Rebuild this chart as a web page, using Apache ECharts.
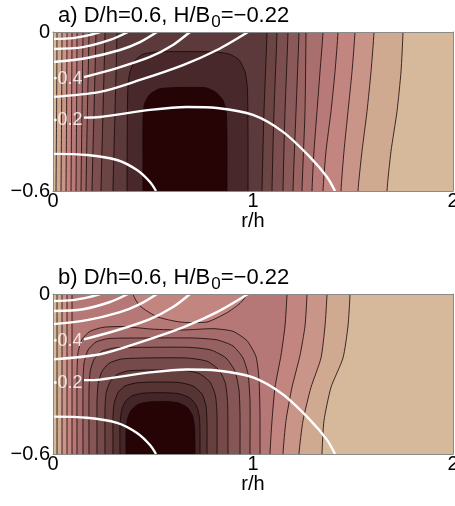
<!DOCTYPE html>
<html><head><meta charset="utf-8">
<script src="https://cdn.jsdelivr.net/npm/echarts@6/dist/echarts.min.js"></script>
<style>html,body{margin:0;padding:0;background:#fff}#c{width:455px;height:506px}</style>
</head><body><div id="c"></div>
<script>
// ---------- axis ticks ----------
const rTicks = [0, 1, 2];
const zTicks = [-0.6, 0];

// ---------- panel a: filled-contour lines (r/h, z/h), top -> bottom ----------
const aLeftLines = [
  [[0.02,0],[0.018,-0.3],[0.015,-0.6]],
  [[0.045,0],[0.043,-0.3],[0.04,-0.6]],
  [[0.07,0],[0.068,-0.3],[0.065,-0.6]],
  [[0.095,0],[0.093,-0.3],[0.09,-0.6]],
  [[0.12,0],[0.118,-0.3],[0.115,-0.6]],
  [[0.15,0],[0.145,-0.3],[0.14,-0.6]],
  [[0.18,0],[0.172,-0.3],[0.165,-0.6]],
  [[0.215,0],[0.205,-0.3],[0.195,-0.6]],
  [[0.26,0],[0.25,-0.3],[0.24,-0.6]],
  [[0.32,0],[0.31,-0.3],[0.30,-0.6]]
];
const aRightLines = [
  [[1.75,0],[1.74,-0.15],[1.72,-0.3],[1.69,-0.45],[1.67,-0.6]],
  [[1.605,0],[1.59,-0.15],[1.57,-0.3],[1.545,-0.45],[1.525,-0.6]],
  [[1.51,0],[1.495,-0.15],[1.475,-0.3],[1.455,-0.45],[1.44,-0.6]],
  [[1.425,0],[1.41,-0.15],[1.39,-0.3],[1.365,-0.45],[1.35,-0.6]],
  [[1.35,0],[1.335,-0.15],[1.32,-0.3],[1.305,-0.45],[1.295,-0.6]],
  [[1.265,0],[1.26,-0.3],[1.245,-0.6]],
  [[1.23,0],[1.215,-0.3],[1.20,-0.6]],
  [[1.175,0],[1.16,-0.3],[1.15,-0.6]],
  [[1.12,0],[1.105,-0.3],[1.095,-0.6]],
  [[1.07,0],[1.055,-0.3],[1.045,-0.6]]
];
// closed-top cores, listed left-bottom -> right-bottom
const aCores = [
  [[0.37,-0.6],[0.372,-0.3],[0.375,-0.2],[0.385,-0.15],[0.41,-0.108],[0.45,-0.084],[0.52,-0.075],[0.80,-0.075],[0.88,-0.083],[0.93,-0.105],[0.96,-0.15],[0.972,-0.21],[0.975,-0.4],[0.975,-0.6]],
  [[0.45,-0.6],[0.45,-0.32],[0.458,-0.27],[0.485,-0.235],[0.53,-0.215],[0.60,-0.21],[0.76,-0.21],[0.81,-0.225],[0.848,-0.255],[0.866,-0.3],[0.87,-0.4],[0.87,-0.6]]
];
const aColors = ['#d5b99a','#d0a991','#ca9589','#c38580','#b87a78','#a96f6e','#9a6463','#8a5959','#7b4f4f','#6b4444','#5c3a3b','#48282a','#260406'];

// ---------- panel b ----------
const bLeftLines = [
  [[0.02,0],[0.02,-0.3],[0.02,-0.6]],
  [[0.045,0],[0.045,-0.3],[0.045,-0.6]],
  [[0.07,0],[0.07,-0.3],[0.07,-0.6]],
  [[0.095,0],[0.095,-0.3],[0.095,-0.6]]
];
const bRightLines = [
  [[1.485,0],[1.475,-0.12],[1.45,-0.24],[1.39,-0.35],[1.355,-0.475],[1.345,-0.6]],
  [[1.37,0],[1.36,-0.12],[1.34,-0.24],[1.29,-0.35],[1.25,-0.475],[1.23,-0.6]],
  [[1.27,0],[1.26,-0.12],[1.235,-0.23],[1.195,-0.35],[1.165,-0.475],[1.15,-0.6]],
  [[1.17,0],[1.16,-0.12],[1.14,-0.23],[1.11,-0.35],[1.095,-0.475],[1.085,-0.6]]
];
// light notch at the top of level 4, left-top -> right-top
const bNotch = [[0.40,0],[0.435,-0.045],[0.52,-0.085],[0.635,-0.105],[0.77,-0.105],[0.87,-0.07],[0.935,-0.035],[0.97,0]];
const bCores = [
  [[0.12,-0.6],[0.12,-0.30],[0.125,-0.22],[0.145,-0.17],[0.185,-0.14],[0.25,-0.125],[0.35,-0.122],[0.50,-0.132],[0.65,-0.135],[0.80,-0.13],[0.90,-0.14],[0.97,-0.175],[1.015,-0.235],[1.03,-0.32],[1.035,-0.45],[1.035,-0.6]],
  [[0.15,-0.6],[0.15,-0.33],[0.155,-0.26],[0.175,-0.21],[0.215,-0.18],[0.28,-0.167],[0.45,-0.165],[0.70,-0.165],[0.82,-0.172],[0.90,-0.195],[0.95,-0.24],[0.975,-0.30],[0.985,-0.4],[0.985,-0.6]],
  [[0.18,-0.6],[0.18,-0.36],[0.186,-0.29],[0.205,-0.245],[0.245,-0.215],[0.31,-0.202],[0.45,-0.20],[0.68,-0.20],[0.79,-0.21],[0.865,-0.24],[0.91,-0.29],[0.93,-0.36],[0.935,-0.45],[0.935,-0.6]],
  [[0.22,-0.6],[0.22,-0.40],[0.226,-0.335],[0.245,-0.29],[0.28,-0.26],[0.34,-0.244],[0.45,-0.24],[0.67,-0.24],[0.77,-0.252],[0.83,-0.285],[0.862,-0.335],[0.873,-0.41],[0.875,-0.6]],
  [[0.26,-0.6],[0.26,-0.43],[0.266,-0.37],[0.285,-0.33],[0.32,-0.302],[0.38,-0.288],[0.5,-0.285],[0.65,-0.286],[0.73,-0.298],[0.785,-0.33],[0.812,-0.38],[0.82,-0.45],[0.82,-0.6]],
  [[0.30,-0.6],[0.30,-0.46],[0.306,-0.41],[0.325,-0.37],[0.36,-0.345],[0.42,-0.333],[0.52,-0.33],[0.63,-0.332],[0.70,-0.345],[0.745,-0.375],[0.765,-0.42],[0.77,-0.48],[0.77,-0.6]],
  [[0.335,-0.6],[0.335,-0.49],[0.342,-0.44],[0.36,-0.405],[0.395,-0.382],[0.45,-0.372],[0.55,-0.37],[0.63,-0.374],[0.685,-0.39],[0.718,-0.42],[0.732,-0.46],[0.735,-0.52],[0.735,-0.6]],
  [[0.365,-0.6],[0.365,-0.52],[0.372,-0.47],[0.39,-0.437],[0.425,-0.414],[0.48,-0.405],[0.56,-0.403],[0.625,-0.408],[0.67,-0.425],[0.697,-0.455],[0.708,-0.5],[0.71,-0.6]]
];
const bColors = ['#d5b99a','#d0a991','#ca9589','#c38580','#b67876','#a66c6b','#966161','#865656','#764a4a','#663f3f','#563434','#442628','#260406'];

// ---------- white stream-function contours (same in both panels) ----------
const psiLines = [
  [[0,-0.026],[0.1,-0.023],[0.185,-0.011],[0.235,0]],
  [[0,-0.064],[0.15,-0.057],[0.285,-0.030],[0.375,0]],
  [[0,-0.113],[0.17,-0.098],[0.335,-0.068],[0.435,-0.038],[0.52,0]],
  [[0,-0.174],[0.018,-0.174]],
  [[0.155,-0.17],[0.32,-0.136],[0.485,-0.094],[0.60,-0.049],[0.685,0]],
  [[0,-0.245],[0.235,-0.226],[0.435,-0.181],[0.65,-0.125],[0.82,-0.068],[0.975,0]],
  [[0,-0.332],[0.018,-0.332]],
  [[0.155,-0.323],[0.235,-0.321],[0.485,-0.294],[0.67,-0.283],[0.82,-0.287],[1.0,-0.313],[1.15,-0.377],[1.285,-0.472],[1.37,-0.547],[1.41,-0.6]],
  [[0,-0.46],[0.17,-0.464],[0.32,-0.483],[0.42,-0.521],[0.485,-0.566],[0.515,-0.6]]
];
const psiLabels = [[0.085,-0.177,'0.4'],[0.085,-0.332,'0.2']];

const titles = ['a) D/h=0.6, H/B', 'b) D/h=0.6, H/B'];
const titleTail = '=−0.22';

// ---------- build polygons ----------
const TOPX = 0.1, BOTX = -0.72;
function bandPoly(left, right, notch) {
  const pts = [];
  const lb = left.slice().reverse();
  pts.push([lb[0][0], BOTX]);
  lb.forEach(p => pts.push(p));
  pts.push([left[0][0], TOPX]);
  if (notch) {
    pts.push([notch[0][0], TOPX]);
    notch.forEach(p => pts.push(p));
    pts.push([notch[notch.length-1][0], TOPX]);
  }
  if (right) {
    pts.push([right[0][0], TOPX]);
    right.forEach(p => pts.push(p));
    pts.push([right[right.length-1][0], BOTX]);
  } else {
    pts.push([2.3, TOPX]); pts.push([2.3, BOTX]);
  }
  return pts;
}
function corePoly(c) {
  return [[c[0][0], BOTX]].concat(c, [[c[c.length-1][0], BOTX]]);
}
const aPolys = [];
for (let i = 0; i < aLeftLines.length; i++) aPolys.push(bandPoly(aLeftLines[i], aRightLines[i]));
aCores.forEach(c => aPolys.push(corePoly(c)));
const bPolys = [];
for (let i = 0; i < bLeftLines.length; i++) bPolys.push(bandPoly(bLeftLines[i], bRightLines[i], i === 3 ? bNotch : null));
bCores.forEach(c => bPolys.push(corePoly(c)));

const FONT = 'Liberation Sans, Arial, Helvetica, sans-serif';

function fillSeries(polys, colors, gi) {
  return {
    type: 'custom', xAxisIndex: gi*2, yAxisIndex: gi*2, clip: true, z: 1, silent: true,
    data: polys.map((_, k) => [0, -0.3, k]),
    encode: {x: 0, y: 1},
    renderItem: function (params, api) {
      const k = api.value(2);
      const pts = polys[k].map(p => api.coord(p));
      return {type: 'polygon', shape: {points: pts, smooth: 0.2},
        style: {fill: colors[k+1], stroke: '#140606', lineWidth: 0.8}};
    }
  };
}
function psiSeries(gi) {
  return psiLines.map(l => ({
    type: 'line', xAxisIndex: gi*2, yAxisIndex: gi*2, data: l, showSymbol: false, smooth: 0.3,
    lineStyle: {color: '#ffffff', width: 2.4}, z: 3, silent: true, clip: true, animation: false
  }));
}
function labelSeries(gi) {
  return {
    type: 'scatter', xAxisIndex: gi*2, yAxisIndex: gi*2, data: psiLabels, symbolSize: 0, z: 4, silent: true,
    label: {show: true, position: 'inside', formatter: p => p.data[2], color: '#ffffff', fontSize: 18, fontFamily: FONT}
  };
}

const grids = [
  {left: 53, top: 32, width: 400, height: 159},
  {left: 53, top: 294, width: 400, height: 160}
];
const xAxes = [], yAxes = [];
grids.forEach((g, gi) => {
  xAxes.push({type: 'value', gridIndex: gi, min: rTicks[0], max: rTicks[rTicks.length-1], interval: 1, position: 'bottom',
    name: 'r/h', nameLocation: 'middle', nameGap: 18,
    nameTextStyle: {fontSize: 20, fontFamily: FONT, color: '#000'},
    axisLine: {show: true, onZero: false, lineStyle: {color: '#8a8a8a', width: 1}}, axisTick: {show: false}, splitLine: {show: false},
    axisLabel: {fontSize: 20, fontFamily: FONT, color: '#000', margin: 0, showMaxLabel: true, showMinLabel: true, hideOverlap: false}, z: 10});
  xAxes.push({type: 'value', gridIndex: gi, min: 0, max: 2, position: 'top',
    axisLine: {show: true, onZero: false, lineStyle: {color: '#8a8a8a', width: 1}}, axisTick: {show: false}, splitLine: {show: false}, axisLabel: {show: false}, z: 10});
  yAxes.push({type: 'value', gridIndex: gi, min: zTicks[0], max: zTicks[zTicks.length-1], interval: 0.6, position: 'left',
    name: 'z/h', nameLocation: 'middle', nameGap: 24, nameRotate: 90,
    nameTextStyle: {fontSize: 20, fontFamily: FONT, color: '#000'},
    axisLine: {show: true, onZero: false, lineStyle: {color: '#8a8a8a', width: 1}}, axisTick: {show: false}, splitLine: {show: false},
    axisLabel: {fontSize: 20, fontFamily: FONT, color: '#000', margin: 3, hideOverlap: false,
      formatter: v => (Math.abs(v) < 1e-9 ? '0' : String(Math.round(v*10)/10).replace('-', '−'))}, z: 10});
  yAxes.push({type: 'value', gridIndex: gi, min: -0.6, max: 0, position: 'right',
    axisLine: {show: true, onZero: false, lineStyle: {color: '#8a8a8a', width: 1}}, axisTick: {show: false}, splitLine: {show: false}, axisLabel: {show: false}, z: 10});
});

const titleRich = {
  t: {fontSize: 22, fontFamily: FONT, color: '#000', lineHeight: 30},
  s: {fontSize: 17, fontFamily: FONT, color: '#000', lineHeight: 17, padding: [13, 0, 0, 1]}
};
const option = {
  animation: false,
  backgroundColor: '#ffffff',
  title: titles.map((t, i) => ({
    text: '{t|' + t + '}{s|0}{t|' + titleTail + '}', left: 53, top: i === 0 ? -4 : 258,
    textStyle: {rich: titleRich, fontSize: 22, fontWeight: 'normal'}
  })),
  grid: grids.map((g, gi) => Object.assign({show: true, containLabel: false, outerBoundsMode: 'none',
    backgroundColor: gi === 0 ? aColors[0] : bColors[0], borderWidth: 0}, g)),
  xAxis: xAxes, yAxis: yAxes,
  series: [fillSeries(aPolys, aColors, 0), fillSeries(bPolys, bColors, 1)]
    .concat(psiSeries(0), psiSeries(1), [labelSeries(0), labelSeries(1)])
};
const chart = echarts.init(document.getElementById('c'), null, {renderer: 'canvas'});
chart.setOption(option);
</script></body></html>
